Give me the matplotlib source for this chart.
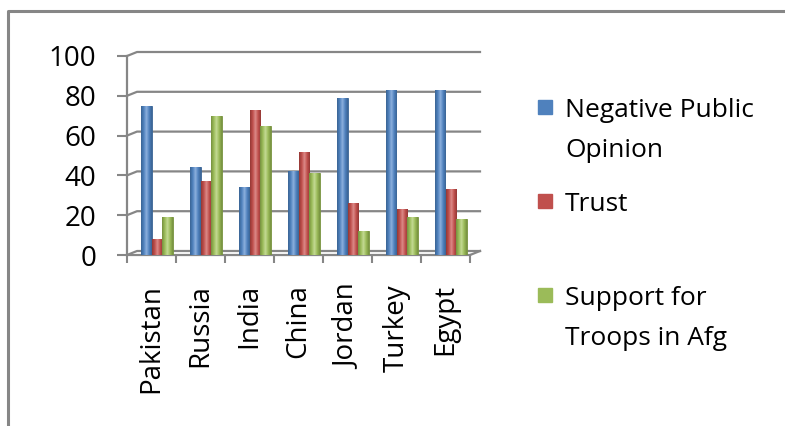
import numpy as np
import matplotlib.pyplot as plt
from matplotlib.lines import Line2D
from matplotlib.patches import Rectangle
from matplotlib.colors import LinearSegmentedColormap

plt.rcParams['font.family'] = ['Open Sans', 'DejaVu Sans']

countries = ["Pakistan", "Russia", "India", "China", "Jordan", "Turkey", "Egypt"]
series = ["Negative Public\nOpinion", "Trust", "Support for\nTroops in Afg"]
negative = [75, 44, 34, 42, 79, 83, 83]
trust = [8, 37, 73, 52, 26, 23, 33]
support = [19, 70, 65, 41, 12, 19, 18]
values = [negative, trust, support]

# office 2007 palette: (dark edge, main, highlight)
shades = [("#3a6494", "#4f81bd", "#8db0dd"),
          ("#943835", "#c0504d", "#dc8a88"),
          ("#76913f", "#9bbb59", "#c4da94")]

W, H = 785, 426
fig = plt.figure(figsize=(W / 100, H / 100), dpi=100)
ax = fig.add_axes([127 / W, (H - 255) / H, 343 / W, 199 / H])

x = np.arange(len(countries))
bw = 0.22
offsets = [-0.11, 0.11, 0.33]
gray = "#868686"

# back wall / floor lines (fake 3d depth)
dx = 10 / 343 * 7
dy = 4 / 199 * 100
yt = [0, 20, 40, 60, 80, 100]
for v in yt:
    ax.plot([-0.5, -0.5 + dx, 6.5 + dx], [v, v + dy, v + dy], color=gray, lw=1.6,
            clip_on=False, zorder=1)
ax.plot([6.5, 6.5 + dx], [0, dy], color=gray, lw=1.6, clip_on=False, zorder=1)

for k in range(3):
    dark, mid, light = shades[k]
    cmap = LinearSegmentedColormap.from_list("c%d" % k, [dark, mid, light, mid, dark])
    grad = np.linspace(0, 1, 64)[None, :]
    bars = ax.bar(x + offsets[k], values[k], width=bw, color=mid, edgecolor=dark,
                  linewidth=0.6, zorder=3)
    for b in bars:
        im = ax.imshow(grad, cmap=cmap, aspect='auto', zorder=3.5,
                       extent=[b.get_x(), b.get_x() + b.get_width(), 0, b.get_height()])
        im.set_clip_path(b)

ax.set_xlim(-0.5, 6.5)
ax.set_ylim(0, 100)
for s in ["top", "right"]:
    ax.spines[s].set_visible(False)
for s in ["left", "bottom"]:
    ax.spines[s].set_color(gray)
    ax.spines[s].set_linewidth(1.6)

ax.set_yticks(yt)
ax.tick_params(axis='y', length=7, width=1.5, color=gray, pad=15, labelsize=20)
ax.set_xticks(np.arange(-0.5, 7, 1))
ax.set_xticklabels([])
ax.tick_params(axis='x', which='major', length=5.5, width=1.5, color=gray)
ax.set_xticks(x, minor=True)
ax.set_xticklabels(countries, minor=True, rotation=90, fontsize=20)
ax.tick_params(axis='x', which='minor', length=0, pad=21)

# legend
ys = [107, 201, 295]
for k in range(3):
    fig.add_artist(Rectangle((538 / W, 1 - (ys[k] + 7) / H), 14 / W, 14 / H,
                             transform=fig.transFigure, color=shades[k][1]))
    for i, line in enumerate(series[k].split("\n")):
        fig.text(565 / W, 1 - (ys[k] + 10 + 40 * i) / H, line, fontsize=19,
                 va='baseline', ha='left')

# chart frame (top and left edges)
fig.add_artist(Line2D([8 / W, 8 / W, 1], [0, 1 - 11 / H, 1 - 11 / H],
                      transform=fig.transFigure, color=gray, lw=2.2))

fig.savefig("out.png", dpi=100, facecolor="white")
